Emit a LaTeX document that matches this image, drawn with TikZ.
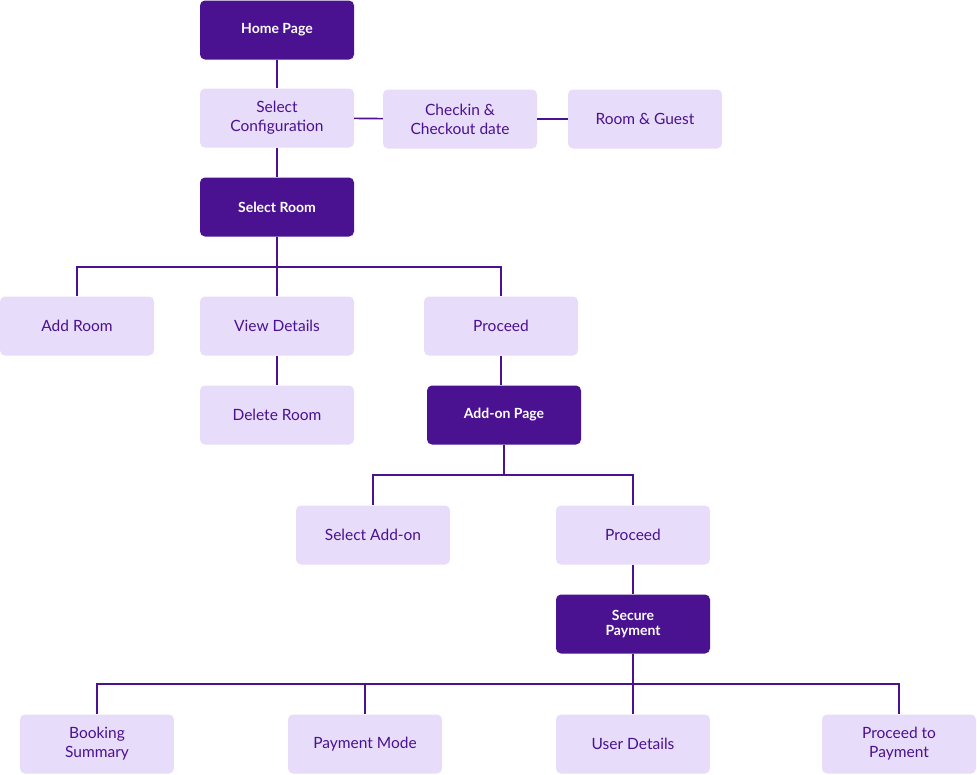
\documentclass[tikz,border=0pt]{standalone}
\usepackage{fontspec}
\setmainfont{Lato}
\definecolor{deep}{HTML}{4A1190}
\definecolor{pale}{HTML}{E7DCF9}
\tikzset{
  pagebox/.style={fill=deep,text=white,rounded corners=5pt,minimum width=154pt,minimum height=59pt,font=\bfseries\fontsize{14}{15}\selectfont,align=center},
  stepbox/.style={fill=pale,text=deep,rounded corners=5pt,minimum width=154pt,minimum height=59pt,font=\fontsize{15.5}{19}\selectfont,align=center},
  link/.style={draw=deep,line width=1.6pt}
}
\begin{document}
\begin{tikzpicture}[x=1pt,y=-1pt]
  \useasboundingbox (0,0) rectangle (977,774);
  % pages
  \node[pagebox] (home) at (277,30) {Home Page};
  \node[pagebox] (selroom) at (277,207) {Select Room};
  \node[pagebox] (addon) at (504,415) {Add-on Page};
  \node[pagebox] (secure) at (633,624) {Secure\\Payment};
  % steps
  \node[stepbox] (config) at (277,118) {Select\\Configuration};
  \node[stepbox] (dates) at (460,119) {Checkin \&\\Checkout date};
  \node[stepbox] (guest) at (645,119) {Room \& Guest};
  \node[stepbox] (addroom) at (77,326) {Add Room};
  \node[stepbox] (details) at (277,326) {View Details};
  \node[stepbox] (proceedA) at (501,326) {Proceed};
  \node[stepbox] (delroom) at (277,415) {Delete Room};
  \node[stepbox] (seladd) at (373,535) {Select Add-on};
  \node[stepbox] (proceedB) at (633,535) {Proceed};
  \node[stepbox] (summary) at (97,744) {Booking\\Summary};
  \node[stepbox] (mode) at (365,744) {Payment Mode};
  \node[stepbox] (user) at (633,744) {User Details};
  \node[stepbox] (topay) at (899,744) {Proceed to\\Payment};
  % connectors
  \draw[link] (home) -- (config);
  \draw[link] (config) -- (selroom);
  \draw[link] (config) -- (dates);
  \draw[link] (dates) -- (guest);
  \draw[link] (selroom.south) -- ++(0,30) -| (addroom.north);
  \draw[link] (selroom.south) -- (details.north);
  \draw[link] (selroom.south) -- ++(0,30) -| (proceedA.north);
  \draw[link] (details) -- (delroom);
  \draw[link] (proceedA) -- (proceedA |- addon.north);
  \draw[link] (addon.south) -- ++(0,30) -| (seladd.north);
  \draw[link] (addon.south) -- ++(0,30) -| (proceedB.north);
  \draw[link] (proceedB) -- (secure);
  \draw[link] (secure.south) -- ++(0,30) -| (summary.north);
  \draw[link] (secure.south) -- ++(0,30) -| (mode.north);
  \draw[link] (secure.south) -- (user.north);
  \draw[link] (secure.south) -- ++(0,30) -| (topay.north);
\end{tikzpicture}
\end{document}
